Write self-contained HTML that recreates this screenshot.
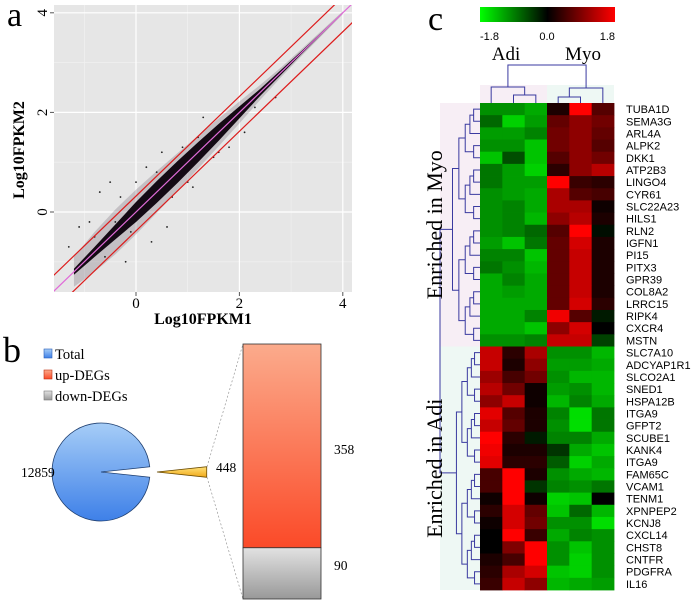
<!DOCTYPE html>
<html><head><meta charset="utf-8"><style>
html,body{margin:0;padding:0;background:#fff;}
svg{display:block;}
text{font-family:"Liberation Serif",serif;}
.gl{font-family:"Liberation Sans",sans-serif;font-size:11px;}
</style></head><body>
<svg id="fig" width="697" height="606" viewBox="0 0 697 606" xmlns="http://www.w3.org/2000/svg">
<defs>
<linearGradient id="cbar" x1="0" x2="1" y1="0" y2="0"><stop offset="0" stop-color="#00ff00"/><stop offset="0.5" stop-color="#000"/><stop offset="1" stop-color="#ff0000"/></linearGradient>
<linearGradient id="pieG" x1="0" x2="0" y1="0" y2="1"><stop offset="0" stop-color="#a6cdf7"/><stop offset="1" stop-color="#3e80e8"/></linearGradient>
<linearGradient id="upG" x1="0" x2="0" y1="0" y2="1"><stop offset="0" stop-color="#fbab8c"/><stop offset="1" stop-color="#fb4a28"/></linearGradient>
<linearGradient id="dnG" x1="0" x2="0" y1="0" y2="1"><stop offset="0" stop-color="#e2e2e2"/><stop offset="1" stop-color="#999"/></linearGradient>
<linearGradient id="wedG" x1="0" x2="0" y1="0" y2="1"><stop offset="0" stop-color="#ffe27a"/><stop offset="1" stop-color="#f0a818"/></linearGradient>
<clipPath id="plotClip"><rect x="54" y="5" width="298" height="287"/></clipPath>
</defs>
<g id="panelA"></g>
<g id="panelB"></g>
<g id="panelC"></g>
</svg>
<script>
// ---------- Panel a data ----------
const xTicks = [0, 2, 4];
const yTicks = [0, 2, 4];
const bandX = [-1.2, -0.8, -0.4, 0, 0.4, 0.8, 1.2, 1.6, 2.0, 2.4, 2.8, 3.2, 3.6, 4.0];
const coreHalf = [0.06, 0.1, 0.15, 0.2, 0.22, 0.22, 0.2, 0.17, 0.12, 0.07, 0.05, 0.03, 0.02, 0.01];
const outerHalf = [0.3, 0.4, 0.45, 0.45, 0.42, 0.38, 0.33, 0.28, 0.22, 0.15, 0.1, 0.07, 0.05, 0.03];
const outX = [-1.3, -1.1, -0.9, -0.7, -0.6, -0.5, -0.3, -0.2, 0.2, 0.3, 0.5, 0.6, 0.9, 1.1, 1.3, 1.6, 1.8, 2.1, 2.7, -0.4, 0.0, 0.7, 1.5, -0.8, -0.1, 0.4, 1.0, 1.2, 2.3];
const outY = [-0.7, -0.3, -0.2, 0.4, -0.9, 0.6, 0.3, -1.0, 0.9, -0.6, 1.2, -0.3, 1.3, 0.5, 1.9, 1.2, 1.3, 1.6, 2.3, -0.2, 0.6, 0.3, 1.1, -0.5, -0.4, 0.8, 0.6, 1.5, 2.1];
const lineOffsets = [0.32, 0, -0.38];

// ---------- Panel b data ----------
const pieTotal = 12859;
const degTotal = 448;
const upDEGs = 358;
const downDEGs = 90;

// ---------- Panel c data ----------
const genes = ["TUBA1D","SEMA3G","ARL4A","ALPK2","DKK1","ATP2B3","LINGO4","CYR61","SLC22A23","HILS1","RLN2","IGFN1","PI15","PITX3","GPR39","COL8A2","LRRC15","RIPK4","CXCR4","MSTN",
"SLC7A10","ADCYAP1R1","SLCO2A1","SNED1","HSPA12B","ITGA9","GFPT2","SCUBE1","KANK4","ITGA9","FAM65C","VCAM1","TENM1","XPNPEP2","KCNJ8","CXCL14","CHST8","CNTFR","PDGFRA","IL16"];
const samples = ["Adi1","Adi2","Adi3","Myo1","Myo2","Myo3"];
const expr = [
[-1.1,-1.1,-1.3,0.2,1.8,0.6],[-0.8,-1.6,-1.2,0.7,1.0,0.8],[-1.2,-1.2,-1.0,0.8,1.0,0.7],[-1.1,-1.1,-1.5,0.8,1.0,0.6],
[-1.5,-0.6,-1.5,0.6,1.0,0.8],[-0.9,-1.2,-1.6,0.3,1.0,1.3],[-0.9,-1.2,-1.2,1.8,0.4,0.3],[-1.1,-1.2,-1.3,1.2,0.6,0.5],
[-1.1,-1.0,-1.3,1.2,1.2,0.1],[-1.1,-1.0,-1.4,1.0,1.3,0.2],[-1.1,-1.0,-0.8,0.6,1.8,-0.1],[-1.2,-1.5,-0.9,0.7,1.5,0.2],
[-1.0,-1.0,-1.5,0.7,1.4,0.2],[-0.9,-1.1,-1.4,0.7,1.4,0.2],[-1.3,-1.0,-1.3,0.7,1.4,0.2],[-1.3,-1.2,-1.3,0.7,1.4,0.2],
[-1.3,-1.3,-1.3,0.7,1.5,0.3],[-1.3,-1.3,-1.0,1.7,0.6,-0.2],[-1.3,-1.3,-1.5,1.0,1.5,0.0],[-1.1,-1.1,-1.0,1.4,1.4,-0.5],
[1.4,0.3,1.2,-1.1,-1.1,-1.4],[1.4,0.2,1.0,-1.2,-1.2,-1.3],[1.1,0.5,0.8,-1.1,-1.4,-1.4],[1.3,0.8,0.1,-1.2,-1.1,-1.4],
[1.0,1.4,0.1,-1.4,-1.0,-1.3],[1.6,0.6,0.2,-1.0,-1.7,-0.9],[1.4,0.7,0.2,-1.1,-1.7,-0.9],[1.8,0.3,-0.2,-1.0,-1.0,-1.3],
[1.7,0.2,0.2,-0.4,-1.3,-1.5],[1.6,0.3,0.3,-0.7,-1.6,-1.3],[0.5,1.8,0.2,-1.1,-1.3,-1.4],[0.5,1.8,-0.4,-1.0,-1.1,-0.9],
[0.1,1.8,0.1,-1.6,-1.5,0.0],[0.3,1.5,0.7,-1.5,-0.8,-1.4],[0.1,1.5,0.8,-1.1,-1.1,-1.7],[0.0,1.8,0.4,-1.3,-1.0,-1.1],
[0.0,0.9,1.8,-1.1,-1.5,-1.1],[0.2,0.5,1.8,-1.1,-1.6,-1.1],[0.3,1.2,1.5,-1.5,-1.6,-1.1],[0.4,1.4,1.0,-1.4,-1.3,-1.2]];

(function(){
const NS = "http://www.w3.org/2000/svg";
function mk(parent, tag, attrs, txt){const e=document.createElementNS(NS,tag);for(const k in attrs)e.setAttribute(k,attrs[k]);if(txt!==undefined)e.textContent=txt;parent.appendChild(e);return e;}

// ===== Panel a =====
const A = document.getElementById('panelA');
const sx = v => 136 + v*51.7;
const sy = v => 212 - v*49.8;
let r = mk(A,'rect',{x:54,y:5,width:298,height:287,fill:'#e6e6e6'});


[-1,1,3].forEach(v=>{let l=mk(A,'line',{x1:sx(v),x2:sx(v),y1:5,y2:292,stroke:'#f2f2f2','stroke-width':0.6});
 let m=mk(A,'line',{y1:sy(v),y2:sy(v),x1:54,x2:352,stroke:'#f2f2f2','stroke-width':0.6});});
xTicks.forEach(v=>{let l=mk(A,'line',{x1:sx(v),x2:sx(v),y1:5,y2:292,stroke:'#fff','stroke-width':1.2});
 let t=mk(A,'text',{x:sx(v),y:308,'text-anchor':'middle','font-size':15},String(v));
 let k=mk(A,'line',{x1:sx(v),x2:sx(v),y1:292,y2:296,stroke:'#555'});});
yTicks.forEach(v=>{let l=mk(A,'line',{y1:sy(v),y2:sy(v),x1:54,x2:352,stroke:'#fff','stroke-width':1.2});
 let t=mk(A,'text',{x:0,y:0,'text-anchor':'middle','font-size':15,transform:`translate(47,${sy(v)}) rotate(-90)`},String(v));
 let k=mk(A,'line',{y1:sy(v),y2:sy(v),x1:50,x2:54,stroke:'#555'});});
const gA = mk(A,'g',{'clip-path':'url(#plotClip)'});
function bandPath(h){let up=bandX.map((x,i)=>`${sx(x)},${sy(x+h[i])}`);let dn=bandX.map((x,i)=>`${sx(x)},${sy(x-h[i])}`).reverse();return 'M'+up.join('L')+'L'+dn.join('L')+'Z';}
let ob=mk(gA,'path',{d:bandPath(outerHalf),fill:'#3a2a3a','fill-opacity':0.2});


let cb=mk(gA,'path',{d:bandPath(coreHalf),fill:'#140a14'});


outX.forEach((x,i)=>{let c=mk(gA,'circle',{cx:sx(x),cy:sy(outY[i]),r:0.9,fill:'#222'});});
lineOffsets.forEach(o=>{let l=mk(gA,'line',{x1:sx(-2),y1:sy(-2+o),x2:sx(5),y2:sy(5+o),stroke:o===0?'#e06bd8':'#dd1c1c','stroke-width':1.2});
 
 });
let xt=mk(A,'text',{x:203,y:324,'text-anchor':'middle','font-size':16,'font-weight':'bold'},'Log10FPKM1');
let yt=mk(A,'text',{x:0,y:0,'text-anchor':'middle','font-size':16,'font-weight':'bold',transform:'translate(24,150) rotate(-90)'},'Log10FPKM2');
let la=mk(A,'text',{x:7,y:26,'font-size':34},'a');

// ===== Panel b =====
const B = document.getElementById('panelB');
let lb=mk(B,'text',{x:3,y:362,'font-size':36},'b');
[['Total','url(#pieG)','#2a5fb8'],['up-DEGs','url(#upG)','#c03010'],['down-DEGs','url(#dnG)','#777']].forEach((d,i)=>{
 let s=mk(B,'rect',{x:44,y:349+i*21,width:8,height:9,fill:d[1],stroke:d[2],'stroke-width':0.6});
 let t=mk(B,'text',{x:55,y:359+i*21,'font-size':14.5},d[0]);});
const cx=101, cy=472, R=49;
const frac = degTotal/(pieTotal+degTotal);
const half = Math.PI*frac;
let pa=mk(B,'path',{d:`M${cx},${cy} L${cx+R*Math.cos(-half)},${cy+R*Math.sin(-half)} A${R},${R} 0 1 0 ${cx+R*Math.cos(half)},${cy+R*Math.sin(half)} Z`,fill:'url(#pieG)',stroke:'#1f3f70','stroke-width':0.8});


const wx=157, WR=50;
let wd=mk(B,'path',{d:`M${wx},${cy} L${wx+WR*Math.cos(-half)},${cy+WR*Math.sin(-half)} L${wx+WR*Math.cos(half)},${cy+WR*Math.sin(half)} Z`,fill:'url(#wedG)',stroke:'#6a4a00','stroke-width':0.8});


const barTop=344, barBot=599, bx=243, bw=78;
const bh=v=>v/degTotal*(barBot-barTop);
const upBot = barTop + bh(upDEGs);
let d1=mk(B,'line',{x1:wx+WR,y1:cy+WR*Math.sin(-half),x2:bx,y2:barTop,stroke:'#999','stroke-width':0.7,'stroke-dasharray':'2,2'});
let d2=mk(B,'line',{x1:wx+WR,y1:cy+WR*Math.sin(half),x2:bx,y2:barBot,stroke:'#999','stroke-width':0.7,'stroke-dasharray':'2,2'});
let ub=mk(B,'rect',{x:bx,y:barTop,width:bw,height:bh(upDEGs),fill:'url(#upG)',stroke:'#333','stroke-width':0.8});
let db=mk(B,'rect',{x:bx,y:upBot,width:bw,height:bh(downDEGs),fill:'url(#dnG)',stroke:'#333','stroke-width':0.8});
let t1=mk(B,'text',{x:21,y:477,'font-size':13.5},String(pieTotal));
let t2=mk(B,'text',{x:216,y:472,'font-size':13.5},String(degTotal));
let t3=mk(B,'text',{x:334,y:454,'font-size':13.5},String(upDEGs));
let t4=mk(B,'text',{x:334,y:570,'font-size':13.5},String(downDEGs));

// ===== Panel c =====
const C = document.getElementById('panelC');
const hx0=480, hx1=614, hy0=103, hy1=590;
const cw=(hx1-hx0)/samples.length, rh=(hy1-hy0)/genes.length;
const colX=i=>hx0+cw*(i+0.5), rowY=i=>hy0+rh*(i+0.5);
let lc=mk(C,'text',{x:428,y:30,'font-size':34},'c');
let cbar=mk(C,'rect',{x:480,y:7,width:135,height:15,fill:'url(#cbar)'});
[['-1.8',480,'start'],['0.0',547,'middle'],['1.8',615,'end']].forEach(d=>{let t=mk(C,'text',{x:d[1],y:40,'text-anchor':d[2],class:'gl','font-size':12},d[0]);});
let sa=mk(C,'text',{x:506,y:60,'text-anchor':'middle','font-size':19},'Adi');
let sm=mk(C,'text',{x:583,y:60,'text-anchor':'middle','font-size':19},'Myo');
let bg1=mk(C,'rect',{x:480,y:85,width:67,height:18,fill:'#f7eef5'});
let bg2=mk(C,'rect',{x:547,y:85,width:67,height:18,fill:'#eef8f4'});
let bg3=mk(C,'rect',{x:440,y:hy0,width:40,height:rh*20,fill:'#f7eef5'});
let bg4=mk(C,'rect',{x:440,y:hy0+rh*20,width:40,height:rh*20,fill:'#eef8f4'});
function colr(v){const t=Math.min(1,Math.abs(v)/1.8);return v>=0?`rgb(${Math.round(255*t)},0,0)`:`rgb(0,${Math.round(235*t)},0)`;}
expr.forEach((row,i)=>{row.forEach((v,j)=>{let c=mk(C,'rect',{x:hx0+cw*j,y:hy0+rh*i,width:cw+0.4,height:rh+0.4,fill:colr(v)});});
 let t=mk(C,'text',{x:626,y:rowY(i)+4,class:'gl'},genes[i]);});
const dc='#3a3aa0';
let dp='';
function rowTree(lo,hi,xLeaf,xRoot){
 if(lo===hi) return [rowY(lo),xLeaf];
 const mid=Math.floor((lo+hi)/2);
 const n=hi-lo+1;
 const x=xLeaf-(xLeaf-xRoot)*Math.min(1,Math.log2(n)/4.4);
 const a=rowTree(lo,mid,xLeaf,xRoot), b=rowTree(mid+1,hi,xLeaf,xRoot);
 dp+=`M${a[1]},${a[0]}H${x}V${b[0]}H${b[1]}`;
 return [(a[0]+b[0])/2,x];
}
const treeTop=rowTree(0,19,480,452), treeBot=rowTree(20,39,480,456);
dp+=`M${treeTop[1]},${treeTop[0]}H440V${treeBot[0]}H${treeBot[1]}`;
dp+=`M${colX(1)},103V95H${colX(2)}V103`;
dp+=`M${colX(0)},103V87H${(colX(1)+colX(2))/2}V95`;
dp+=`M${colX(3)},103V97H${colX(4)}V103`;
dp+=`M${(colX(3)+colX(4))/2},97V88H${colX(5)}V103`;
dp+=`M${(colX(0)+colX(1.5))/2},87V65H${(colX(3.5)+colX(5))/2}V88`;
let dd=mk(C,'path',{d:dp,fill:'none',stroke:dc,'stroke-width':1});


let e1=mk(C,'text',{x:0,y:0,'text-anchor':'middle','font-size':22,transform:`translate(442,${hy0+rh*10}) rotate(-90)`},'Enriched in Myo');
let e2=mk(C,'text',{x:0,y:0,'text-anchor':'middle','font-size':22,transform:`translate(442,${hy0+rh*30}) rotate(-90)`},'Enriched in Adi');
})();
</script>
</body></html>
